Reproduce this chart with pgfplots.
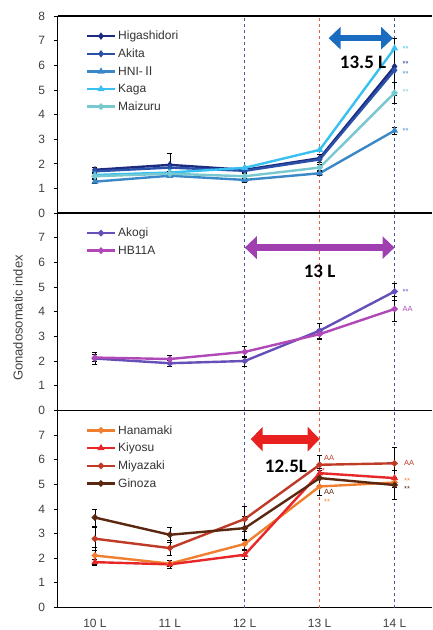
\documentclass[border=0pt]{standalone}
\usepackage{fontspec}
\setmainfont{Liberation Sans}
\newfontfamily\calibri{Carlito}
\newfontfamily\cjk{Noto Sans CJK JP}
\usepackage{pgfplots}
\pgfplotsset{compat=1.18}
\usetikzlibrary{arrows.meta}
\definecolor{cHig}{HTML}{1C2A80}
\definecolor{cAki}{HTML}{2A50A8}
\definecolor{cHNI}{HTML}{3A88C8}
\definecolor{cKag}{HTML}{38C0F0}
\definecolor{cMai}{HTML}{78C8D0}
\definecolor{cAko}{HTML}{6650B8}
\definecolor{cHB}{HTML}{B048B8}
\definecolor{cHan}{HTML}{F08030}
\definecolor{cKiy}{HTML}{E82828}
\definecolor{cMiy}{HTML}{C03A28}
\definecolor{cGin}{HTML}{5A2810}
\definecolor{arrBlue}{HTML}{1A6CC0}
\definecolor{arrPur}{HTML}{A040B0}
\definecolor{arrRed}{HTML}{E82020}
\definecolor{dashNavy}{HTML}{4A5A90}
\definecolor{dashRed}{HTML}{E06040}
\pgfplotsset{
  panel/.style={
    scale only axis, width=374.5pt, height=197.2pt,
    xmin=9.5, xmax=14.5, ymin=0, ymax=8,
    axis x line=box, axis y line=left,
    axis line style={-, line width=1.3pt, black},
    ytick={0,...,7}, xtick=\empty,
    tick align=outside, major tick length=4pt,
    tick style={black, line width=0.8pt},
    /pgf/number format/assume math mode=true,
    yticklabel style={font=\fontsize{12}{12}\selectfont, text=black!75, xshift=-5pt},
    clip=false,
    legend cell align=left,
    legend style={draw=none, fill=none, at={(0.075,0.935)}, anchor=north west,
      font=\fontsize{12}{12}\selectfont, row sep=3.5pt, inner sep=0pt, text=black!80},
    legend image code/.code={\draw[mark repeat=2,mark phase=2] plot coordinates {(0pt,0pt)(14pt,0pt)(28pt,0pt)};},
    every axis plot/.append style={line width=2.4pt, mark size=1.8pt,
      error bars/error bar style={black, line width=0.6pt},
      error bars/error mark options={black, line width=0.6pt, mark size=2.5pt, rotate=90}},
  },
}
\newcommand{\vlines}{%
  \draw[dashNavy, line width=0.8pt, dash pattern=on 3pt off 3pt] (axis cs:12,0) -- (axis cs:12,8);
  \draw[dashRed, line width=0.8pt, dash pattern=on 3pt off 3pt] (axis cs:13,0) -- (axis cs:13,8);
  \draw[dashNavy, line width=0.8pt, dash pattern=on 3pt off 3pt] (axis cs:14,0) -- (axis cs:14,8);
}
\begin{document}
\begin{tikzpicture}
\useasboundingbox (0,0) rectangle (432pt,630pt);
% ---------------- top panel
\begin{axis}[panel, at={(57.5pt,416.8pt)}, anchor=south west, ytick={0,...,8}]
\vlines
\addplot[cHig, mark=diamond*, error bars/.cd, y dir=both, y explicit] coordinates {
 (10,1.76) +- (0,0.1) (11,1.96) +- (0,0.45) (12,1.76) +- (0,0.12) (13,2.23) +- (0,0.15) (14,5.95) +- (0,1.15)};
\addplot[cAki, mark=diamond*] coordinates {(10,1.70) (11,1.85) (12,1.72) (13,2.18) (14,5.80)};
\addplot[cHNI, mark=triangle*, error bars/.cd, y dir=both, y explicit] coordinates {
 (10,1.28) +- (0,0.08) (11,1.52) +- (0,0.08) (12,1.35) +- (0,0.08) (13,1.62) +- (0,0.1) (14,3.35) +- (0,0.15)};
\addplot[cKag, mark=triangle*] coordinates {(10,1.55) (11,1.65) (12,1.84) (13,2.57) (14,6.69)};
\addplot[cMai, mark=*, error bars/.cd, y dir=both, y explicit] coordinates {
 (10,1.50) +- (0,0.1) (11,1.60) +- (0,0.1) (12,1.50) +- (0,0.1) (13,1.85) +- (0,0.12) (14,4.88) +- (0,0.42)};
\legend{Higashidori, Akita, HNI-{\cjk Ⅱ}, Kaga, Maizuru}
\draw[arrBlue, line width=6pt, {Triangle[width=22pt,length=12pt]}-{Triangle[width=22pt,length=12pt]}] (axis cs:13.12,7.1) -- (axis cs:13.98,7.1);
\node[font=\calibri\bfseries\fontsize{19}{19}\selectfont] at (axis cs:13.58,6.12) {13.5 L};
\begin{scope}[font=\fontsize{7.5}{7.5}\selectfont, inner sep=0.5pt]
\node[cKag, anchor=west] at (axis cs:14.1,6.65) {**};
\node[cHig, anchor=west] at (axis cs:14.1,6.04) {**};
\node[cHNI, anchor=west] at (axis cs:14.1,5.64) {**};
\node[cMai, anchor=west] at (axis cs:14.1,4.9) {**};
\node[cHNI, anchor=west] at (axis cs:14.1,3.35) {**};
\end{scope}
\end{axis}
% ---------------- middle panel
\begin{axis}[panel, at={(57.5pt,219.7pt)}, anchor=south west]
\vlines
\addplot[cAko, mark=*, error bars/.cd, y dir=both, y explicit] coordinates {
 (10,2.10) +- (0,0.25) (11,1.91) +- (0,0.12) (12,2.00) +- (0,0.2) (13,3.23) +- (0,0.3) (14,4.82) +- (0,0.35)};
\addplot[cHB, mark=*, error bars/.cd, y dir=both, y explicit] coordinates {
 (10,2.14) +- (0,0.15) (11,2.08) +- (0,0.15) (12,2.37) +- (0,0.22) (13,3.09) +- (0,0.2) (14,4.11) +- (0,0.5)};
\legend{Akogi, HB11A}
\draw[arrPur, line width=7pt, {Triangle[width=22pt,length=12pt]}-{Triangle[width=22pt,length=12pt]}] (axis cs:12.0,6.6) -- (axis cs:14.0,6.6);
\node[font=\calibri\bfseries\fontsize{19}{19}\selectfont] at (axis cs:13.0,5.62) {13 L};
\begin{scope}[font=\fontsize{7.5}{7.5}\selectfont, inner sep=0.5pt]
\node[cAko, anchor=west] at (axis cs:14.1,4.8) {**};
\node[cHB, anchor=west] at (axis cs:14.1,4.1) {AA};
\end{scope}
\end{axis}
% ---------------- bottom panel
\begin{axis}[panel, at={(57.5pt,22.5pt)}, anchor=south west,
  xtick={10,...,14}, xticklabels={10 L,11 L,12 L,13 L,14 L},
  major x tick style={draw=none},
  xticklabel style={font=\fontsize{12}{12}\selectfont, text=black!75, yshift=-4pt},
  extra x ticks={9.5,10.5,11.5,12.5,13.5}, extra x tick labels={},
  extra x tick style={tick align=center, major tick length=6pt, tick style={black, line width=0.8pt}}]
\vlines
\addplot[cHan, mark=*, error bars/.cd, y dir=both, y explicit] coordinates {
 (10,2.11) +- (0,0.35) (11,1.78) +- (0,0.12) (12,2.58) +- (0,0.2) (13,4.91) +- (0,0.35) (14,5.07) +- (0,0.2)};
\addplot[cKiy, mark=triangle*, error bars/.cd, y dir=both, y explicit] coordinates {
 (10,1.84) +- (0,0.12) (11,1.75) +- (0,0.15) (12,2.14) +- (0,0.2) (13,5.45) +- (0,0.2) (14,5.25) +- (0,0.3)};
\addplot[cMiy, mark=*, error bars/.cd, y dir=both, y explicit] coordinates {
 (10,2.79) +- (0,0.45) (11,2.41) +- (0,0.3) (12,3.59) +- (0,0.5) (13,5.79) +- (0,0.4) (14,5.85) +- (0,0.65)};
\addplot[cGin, mark=*, error bars/.cd, y dir=both, y explicit] coordinates {
 (10,3.65) +- (0,0.35) (11,2.95) +- (0,0.3) (12,3.22) +- (0,0.5) (13,5.25) +- (0,0.3) (14,4.97) +- (0,0.6)};
\legend{Hanamaki, Kiyosu, Miyazaki, Ginoza}
\draw[arrRed, line width=9pt, {Triangle[width=24pt,length=12pt]}-{Triangle[width=24pt,length=12pt]}] (axis cs:12.08,6.83) -- (axis cs:13.0,6.83);
\node[font=\calibri\bfseries\fontsize{19}{19}\selectfont] at (axis cs:12.55,5.74) {12.5L};
\begin{scope}[font=\fontsize{7.5}{7.5}\selectfont, inner sep=0.5pt]
\node[cMiy, anchor=west] at (axis cs:13.05,6.08) {AA};
\node[cKiy, anchor=west] at (axis cs:13.02,5.55) {*};
\node[cGin, anchor=west] at (axis cs:13.05,4.7) {AA};
\node[cHan, anchor=west] at (axis cs:13.05,4.27) {**};
\node[cMiy, anchor=west] at (axis cs:14.12,5.88) {AA};
\node[cHan, anchor=west] at (axis cs:14.12,5.14) {**};
\node[cGin, anchor=west] at (axis cs:14.12,4.8) {**};
\end{scope}
\end{axis}
\node[rotate=90, font=\fontsize{13}{13}\selectfont, text=black!75] at (18pt,312pt) {Gonadosomatic index};
\end{tikzpicture}
\end{document}
